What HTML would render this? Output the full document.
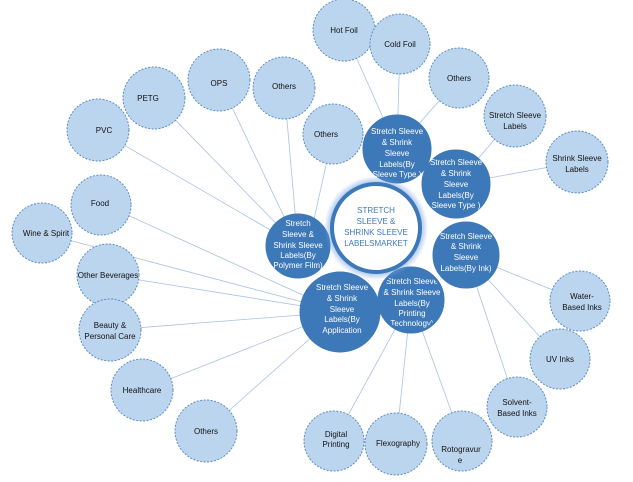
<!DOCTYPE html>
<html><head><meta charset="utf-8"><style>
html,body{margin:0;padding:0;background:#fff;width:633px;height:482px;overflow:hidden}
text{font-family:"Liberation Sans Narrow","Liberation Sans",sans-serif;font-size:8px;text-anchor:middle}
.l{fill:#bcd5ee;stroke:#5b8cc4;stroke-width:1;stroke-dasharray:2 1.5}
.d{fill:#3d78b8;stroke:#3d78b8;stroke-width:1}
.lt{fill:#111}
.dt{fill:#fff}
line{stroke:#a9c2e0;stroke-width:0.8}
</style></head><body>
<svg width="633" height="482" viewBox="0 0 633 482">
<defs>
<radialGradient id="g" cx="50%" cy="50%" r="50%">
<stop offset="80%" stop-color="#6fa0e8" stop-opacity="0.9"/>
<stop offset="100%" stop-color="#6fa0e8" stop-opacity="0"/>
</radialGradient>
</defs>
<!-- lines -->
<g>
<line x1="344" y1="30" x2="397" y2="149"/><line x1="400" y1="44" x2="397" y2="149"/><line x1="459" y1="78" x2="397" y2="149"/>
<line x1="515" y1="116" x2="456" y2="184"/><line x1="577" y1="162" x2="456" y2="184"/>
<line x1="98" y1="130" x2="298" y2="246"/><line x1="154" y1="98" x2="298" y2="246"/><line x1="219" y1="80" x2="298" y2="246"/><line x1="284" y1="86" x2="298" y2="246"/><line x1="333" y1="134" x2="308" y2="246"/>
<line x1="101" y1="203" x2="340" y2="312"/><line x1="42" y1="233" x2="340" y2="312"/><line x1="108" y1="275" x2="340" y2="312"/><line x1="110" y1="330" x2="340" y2="312"/><line x1="142" y1="390" x2="340" y2="312"/><line x1="206" y1="431" x2="340" y2="312"/>
<line x1="334" y1="441" x2="411" y2="300"/><line x1="396" y1="444" x2="411" y2="300"/><line x1="462" y1="441" x2="411" y2="300"/>
<line x1="580" y1="301" x2="466" y2="255"/><line x1="560" y1="359" x2="466" y2="255"/><line x1="517" y1="407" x2="466" y2="255"/>
</g>
<!-- light circles -->
<g>
<circle class="l" cx="344" cy="30" r="31"/><text class="lt" x="344" y="33">Hot Foil</text>
<circle class="l" cx="400" cy="44" r="30"/><text class="lt" x="400" y="47">Cold Foil</text>
<circle class="l" cx="459" cy="78" r="30"/><text class="lt" x="459" y="81">Others</text>
<circle class="l" cx="515" cy="116" r="31"/><text class="lt" x="515" y="118">Stretch Sleeve</text><text class="lt" x="515" y="129">Labels</text>
<circle class="l" cx="577" cy="162" r="31"/><text class="lt" x="577" y="161">Shrink Sleeve</text><text class="lt" x="577" y="172">Labels</text>
<circle class="l" cx="219" cy="80" r="31"/><text class="lt" x="219" y="86">OPS</text>
<circle class="l" cx="284" cy="88" r="31"/><text class="lt" x="284" y="89">Others</text>
<circle class="l" cx="154" cy="98" r="31"/><text class="lt" x="148" y="101">PETG</text>
<circle class="l" cx="98" cy="130" r="31"/><text class="lt" x="104" y="133">PVC</text>
<circle class="l" cx="333" cy="134" r="30"/><text class="lt" x="326" y="137">Others</text>
<circle class="l" cx="101" cy="205" r="30"/><text class="lt" x="100" y="206">Food</text>
<circle class="l" cx="42" cy="233" r="30"/><text class="lt" x="46" y="236">Wine &amp; Spirit</text>
<circle class="l" cx="108" cy="275" r="31"/><text class="lt" x="108" y="278">Other Beverages</text>
<circle class="l" cx="110" cy="330" r="31"/><text class="lt" x="110" y="328">Beauty &amp;</text><text class="lt" x="110" y="339">Personal Care</text>
<circle class="l" cx="142" cy="390" r="31"/><text class="lt" x="142" y="393">Healthcare</text>
<circle class="l" cx="206" cy="431" r="31"/><text class="lt" x="206" y="434">Others</text>
<circle class="l" cx="334" cy="441" r="30"/><text class="lt" x="336" y="437">Digital</text><text class="lt" x="336" y="447">Printing</text>
<circle class="l" cx="396" cy="444" r="31"/><text class="lt" x="398" y="446">Flexography</text>
<circle class="l" cx="462" cy="441" r="30"/><text class="lt" x="461" y="452">Rotogravur</text><text class="lt" x="460" y="463">e</text>
<circle class="l" cx="517" cy="407" r="30"/><text class="lt" x="517" y="405">Solvent-</text><text class="lt" x="517" y="416">Based Inks</text>
<circle class="l" cx="560" cy="359" r="30"/><text class="lt" x="560" y="362">UV Inks</text>
<circle class="l" cx="580" cy="301" r="30"/><text class="lt" x="582" y="299">Water-</text><text class="lt" x="582" y="310">Based Inks</text>
</g>
<!-- dark circles -->
<g>
<circle class="d" cx="397" cy="149" r="34"/>
<text class="dt" x="397" y="134">Stretch Sleeve</text><text class="dt" x="397" y="145">&amp; Shrink</text><text class="dt" x="397" y="156">Sleeve</text><text class="dt" x="397" y="167">Labels(By</text><text class="dt" x="397" y="177">Sleeve Type )</text>
<circle class="d" cx="456" cy="184" r="34"/>
<text class="dt" x="456" y="165">Stretch Sleeve</text><text class="dt" x="456" y="176">&amp; Shrink</text><text class="dt" x="456" y="187">Sleeve</text><text class="dt" x="456" y="198">Labels(By</text><text class="dt" x="456" y="208">Sleeve Type )</text>
<circle class="d" cx="298" cy="246" r="32"/>
<text class="dt" x="298" y="226">Stretch</text><text class="dt" x="298" y="237">Sleeve &amp;</text><text class="dt" x="298" y="248">Shrink Sleeve</text><text class="dt" x="298" y="258">Labels(By</text><text class="dt" x="298" y="268">Polymer Film)</text>
<circle class="d" cx="466" cy="255" r="33"/>
<text class="dt" x="466" y="239">Stretch Sleeve</text><text class="dt" x="466" y="249">&amp; Shrink</text><text class="dt" x="466" y="260">Sleeve</text><text class="dt" x="466" y="271">Labels(By Ink)</text>
<circle class="d" cx="340" cy="312" r="40"/>
<text class="dt" x="342" y="290">Stretch Sleeve</text><text class="dt" x="342" y="301">&amp; Shrink</text><text class="dt" x="342" y="312">Sleeve</text><text class="dt" x="342" y="322">Labels(By</text><text class="dt" x="342" y="333">Application</text>
<circle class="d" cx="411" cy="300" r="33"/>
<clipPath id="cp"><circle cx="411" cy="300" r="31"/></clipPath>
<g clip-path="url(#cp)">
<text class="dt" x="412" y="284">Stretch Sleeve</text><text class="dt" x="412" y="295">&amp; Shrink Sleeve</text><text class="dt" x="412" y="306">Labels(By</text><text class="dt" x="412" y="316">Printing</text><text class="dt" x="412" y="326">Technology)</text>
</g>
</g>
<!-- center -->
<circle cx="376" cy="228" r="52" fill="url(#g)"/>
<circle cx="376" cy="228" r="44" fill="#fff" stroke="#3d78b8" stroke-width="4"/>
<text x="376" y="213" fill="#3d78b8">STRETCH</text>
<text x="376" y="224" fill="#3d78b8">SLEEVE &amp;</text>
<text x="376" y="235" fill="#3d78b8">SHRINK SLEEVE</text>
<text x="376" y="246" fill="#3d78b8">LABELSMARKET</text>
</svg>
</body></html>
